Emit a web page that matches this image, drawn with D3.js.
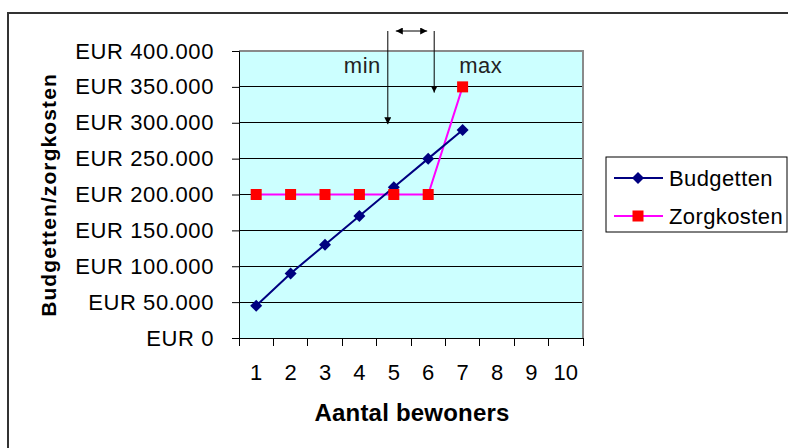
<!DOCTYPE html>
<html>
<head>
<meta charset="utf-8">
<script src="https://cdn.jsdelivr.net/npm/d3@7"></script>
<style>
  html, body { margin: 0; padding: 0; background: #fff; }
  svg { display: block; font-family: "Liberation Sans", Arial, sans-serif; }
</style>
</head>
<body>
<svg id="chart" width="788" height="448"></svg>
<script>
// ---- data ----
const categories = [1, 2, 3, 4, 5, 6, 7, 8, 9, 10];
const budgetten = [45000, 90000, 130000, 170000, 210000, 250000, 290000];
const zorgkosten = [200000, 200000, 200000, 200000, 200000, 200000, 350000];
const yTickValues = [0, 50000, 100000, 150000, 200000, 250000, 300000, 350000, 400000];
const seriesNames = ["Budgetten", "Zorgkosten"];
const xTitle = "Aantal bewoners";
const yTitle = "Budgetten/zorgkosten";
const annotationLabels = ["min", "max"];

// ---- layout ----
const svg = d3.select("#chart");
const plot = { left: 239, right: 583, top: 51, bottom: 338 };

const x = d3.scaleBand().domain(categories).range([plot.left, plot.right]).paddingInner(0).paddingOuter(0);
const y = d3.scaleLinear().domain([0, 400000]).range([plot.bottom, plot.top]);
const fmt = v => "EUR " + d3.format(",")(v).replace(/,/g, ".");

// outer frame
svg.append("rect").attr("x", 8).attr("y", 13).attr("width", 800).attr("height", 460)
  .attr("fill", "#fff").attr("stroke", "#333").attr("stroke-width", 2);

// plot background
svg.append("rect").attr("x", plot.left).attr("y", plot.top)
  .attr("width", plot.right - plot.left).attr("height", plot.bottom - plot.top)
  .attr("fill", "#CCFFFF");

// gridlines
svg.append("g").selectAll("line").data(yTickValues.filter(d => d > 0)).join("line")
  .attr("x1", plot.left).attr("x2", plot.right)
  .attr("y1", d => y(d)).attr("y2", d => y(d))
  .attr("stroke", "#000").attr("stroke-width", 1).attr("shape-rendering", "crispEdges");

// plot border top/right (gray)
svg.append("path")
  .attr("d", `M${plot.left},${plot.top}H${plot.right}V${plot.bottom}`)
  .attr("fill", "none").attr("stroke", "#8a8a8a").attr("stroke-width", 2);

// y axis
const yAxis = d3.axisLeft(y).tickValues(yTickValues).tickFormat(fmt).tickSize(7).tickPadding(18);
const gy = svg.append("g").attr("transform", `translate(${plot.left},0)`).call(yAxis);
gy.select(".domain").attr("stroke", "#000");
gy.selectAll(".tick line").attr("stroke", "#000");
gy.selectAll(".tick text").attr("font-size", 22).attr("fill", "#000")
  .attr("font-family", "Liberation Sans, Arial, sans-serif").attr("letter-spacing", 0.6);

// x axis
const xAxis = d3.axisBottom(x).tickSize(0).tickPadding(26);
const gx = svg.append("g").attr("transform", `translate(0,${plot.bottom})`).call(xAxis);
gx.select(".domain").attr("stroke", "#000");
gx.selectAll(".tick text").attr("font-size", 22).attr("fill", "#000")
  .attr("font-family", "Liberation Sans, Arial, sans-serif");
// x tick marks at band boundaries
const boundaries = categories.map(c => x(c)).concat([x(categories[categories.length - 1]) + x.bandwidth()]);
svg.append("g").selectAll("line").data(boundaries).join("line")
  .attr("x1", d => d).attr("x2", d => d)
  .attr("y1", plot.bottom).attr("y2", plot.bottom + 8)
  .attr("stroke", "#000").attr("shape-rendering", "crispEdges");

const cx = c => x(c) + x.bandwidth() / 2;

// Zorgkosten line
const line = d3.line().x((d, i) => cx(categories[i])).y(d => y(d));
svg.append("path").datum(zorgkosten).attr("d", line)
  .attr("fill", "none").attr("stroke", "#FF00FF").attr("stroke-width", 2);
// Budgetten line
svg.append("path").datum(budgetten).attr("d", line)
  .attr("fill", "none").attr("stroke", "#000080").attr("stroke-width", 2);

// markers Budgetten (diamond)
svg.append("g").selectAll("path").data(budgetten).join("path")
  .attr("d", (d, i) => `M${cx(categories[i])},${y(d) - 6}l6,6l-6,6l-6,-6z`)
  .attr("fill", "#000080");
// markers Zorgkosten (square)
svg.append("g").selectAll("rect").data(zorgkosten).join("rect")
  .attr("x", (d, i) => cx(categories[i]) - 5.5).attr("y", d => y(d) - 5.5)
  .attr("width", 11).attr("height", 11).attr("fill", "#FF0000");

// axis titles
svg.append("text").attr("x", (plot.left + plot.right) / 2 + 1).attr("y", 421)
  .attr("text-anchor", "middle").attr("font-size", 24).attr("font-weight", "bold")
  .attr("letter-spacing", 0.2).text(xTitle);
svg.append("text").attr("transform", "translate(56,195) rotate(-90)")
  .attr("text-anchor", "middle").attr("font-size", 21).attr("font-weight", "bold")
  .attr("letter-spacing", 1.1).text(yTitle);

// annotations: arrows
const defs = svg.append("defs");
defs.append("marker").attr("id", "ah").attr("viewBox", "0 0 10 10").attr("refX", 10).attr("refY", 5)
  .attr("markerWidth", 7).attr("markerHeight", 7).attr("markerUnits", "userSpaceOnUse")
  .attr("orient", "auto-start-reverse")
  .append("path").attr("d", "M0,0L10,5L0,10z").attr("fill", "#000");

const minX = cx(5) - 6, maxX = cx(6) + 6, arrowTop = 31;
svg.append("line").attr("x1", minX).attr("x2", minX).attr("y1", arrowTop).attr("y2", y(298000))
  .attr("stroke", "#000").attr("stroke-width", 1).attr("marker-end", "url(#ah)");
svg.append("line").attr("x1", maxX).attr("x2", maxX).attr("y1", arrowTop).attr("y2", y(342000))
  .attr("stroke", "#000").attr("stroke-width", 1).attr("marker-end", "url(#ah)");
svg.append("line").attr("x1", minX + 8).attr("x2", maxX - 7).attr("y1", arrowTop).attr("y2", arrowTop)
  .attr("stroke", "#000").attr("stroke-width", 1)
  .attr("marker-start", "url(#ah)").attr("marker-end", "url(#ah)");

svg.append("text").attr("x", minX - 7).attr("y", 73).attr("text-anchor", "end")
  .attr("font-size", 22).attr("letter-spacing", 0.5).attr("fill", "#222").text(annotationLabels[0]);
svg.append("text").attr("x", maxX + 25).attr("y", 73).attr("text-anchor", "start")
  .attr("font-size", 22).attr("letter-spacing", 0.5).attr("fill", "#222").text(annotationLabels[1]);

// legend
const lg = svg.append("g");
lg.append("rect").attr("x", 606).attr("y", 157).attr("width", 181).attr("height", 75)
  .attr("fill", "#fff").attr("stroke", "#000").attr("stroke-width", 1);
const legendItems = [
  { name: seriesNames[0], color: "#000080", marker: "diamond", yy: 178 },
  { name: seriesNames[1], color: "#FF00FF", marker: "square", yy: 216 }
];
legendItems.forEach(it => {
  lg.append("line").attr("x1", 614).attr("x2", 663).attr("y1", it.yy).attr("y2", it.yy)
    .attr("stroke", it.color).attr("stroke-width", 2);
  if (it.marker === "diamond") {
    lg.append("path").attr("d", `M638,${it.yy - 6}l6,6l-6,6l-6,-6z`).attr("fill", "#000080");
  } else {
    lg.append("rect").attr("x", 632.5).attr("y", it.yy - 5.5).attr("width", 11).attr("height", 11).attr("fill", "#FF0000");
  }
  lg.append("text").attr("x", 669).attr("y", it.yy + 8).attr("font-size", 22)
    .attr("letter-spacing", 0.4).text(it.name);
});
</script>
</body>
</html>
